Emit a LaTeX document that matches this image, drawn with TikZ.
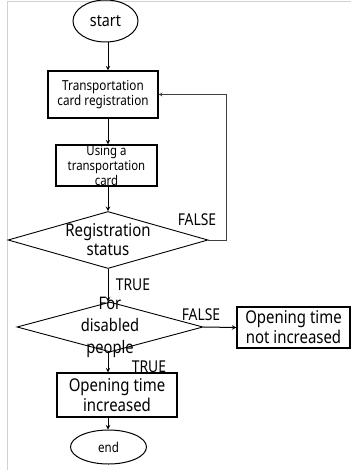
\documentclass[tikz,border=0pt]{standalone}
\usepackage{fontspec}
\setmainfont[FakeStretch=0.85]{Noto Sans}
\usetikzlibrary{shapes.geometric}

\begin{document}
\begin{tikzpicture}[x=1pt, y=-1pt, >=stealth,
    process/.style={rectangle, draw, line width=1.2pt, inner sep=0pt, align=center},
    decision/.style={diamond, draw, line width=0.9pt, inner sep=0pt},
    terminal/.style={ellipse, draw, line width=1pt, inner sep=0pt},
    lbl/.style={font=\fontsize{16.3}{18}\selectfont}]
    \useasboundingbox (0,0) rectangle (351,470);
    % Frame
    \draw[black!18, line width=0.8pt] (7,470) -- (7,1) -- (351,1);

    % Steps
    \node[terminal, minimum width=65pt, minimum height=42pt, font=\fontsize{16.8}{18}\selectfont] (START) at (105.5,21) {start};
    \node[process, minimum width=110pt, minimum height=47pt, font=\fontsize{13.8}{13.5}\selectfont] (CARDREG) at (103,94.5) {Transportation\\card registration};
    \node[process, minimum width=101pt, minimum height=41pt, font=\fontsize{13.4}{15}\selectfont] (CARDUSE) at (106.5,165.5) {Using a\\transportation\\card};
    \node[decision, minimum width=200pt, minimum height=57pt] (REGSTAT) at (108,240) {};
    \node[font=\fontsize{17.6}{19}\selectfont, align=center] (REGSTATTXT) at (REGSTAT) {Registration\\status};
    \node[decision, minimum width=186pt, minimum height=50pt] (DISABLED) at (110,327) {};
    \node[font=\fontsize{17.3}{22}\selectfont, align=center] (DISABLEDTXT) at (DISABLED) {For\\disabled\\people};
    \node[process, minimum width=113pt, minimum height=41pt, font=\fontsize{17.6}{20}\selectfont] (NOTINC) at (293.5,327.5) {Opening time\\not increased};
    \node[process, minimum width=120pt, minimum height=44pt, font=\fontsize{17.6}{20}\selectfont] (INC) at (117,395) {Opening time\\increased};
    \node[terminal, minimum width=76pt, minimum height=34pt, font=\fontsize{13.6}{15}\selectfont] (END) at (108.5,447) {end};
    \coordinate (SPINE) at (108,0);

    % Flow
    \draw[->, line width=1pt] (START.south -| SPINE) -- (CARDREG.north -| SPINE);
    \draw[->, line width=1pt] (CARDREG.south -| SPINE) -- (CARDUSE.north -| SPINE);
    \draw[->, line width=1pt] (CARDUSE.south -| SPINE) -- (REGSTAT.north -| SPINE);
    \draw[->, line width=1pt] (REGSTAT.south -| SPINE) -- (DISABLED.north -| SPINE);
    \draw[->, line width=1pt] (DISABLED.south -| SPINE) -- (INC.north -| SPINE);
    \draw[->, line width=1pt] (INC.south -| SPINE) -- (END.north -| SPINE);
    \draw[->, line width=1pt] (DISABLED.east) -- (NOTINC.west);
    \draw[->, black!75, line width=0.7pt] (REGSTAT.east) -- ++(18,0) |- (CARDREG.east);

    % Branch labels
    \node[lbl] (FALSEA) at (197,220) {FALSE};
    \node[lbl] (TRUEA) at (133,285) {TRUE};
    \node[lbl] (FALSEB) at (201,315) {FALSE};
    \node[lbl] (TRUEB) at (149,367) {TRUE};
\end{tikzpicture}
\end{document}
